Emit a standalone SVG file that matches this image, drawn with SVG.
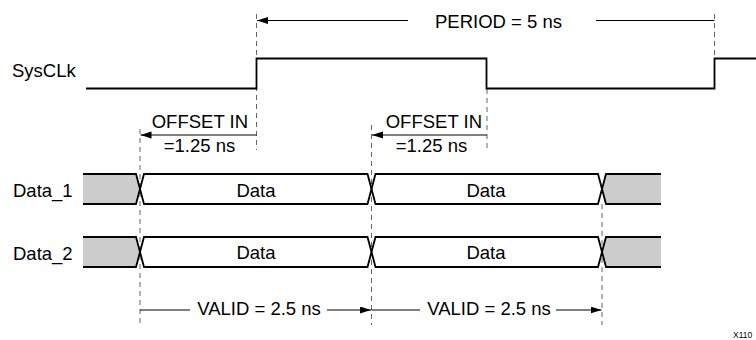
<svg xmlns="http://www.w3.org/2000/svg" width="756" height="340" viewBox="0 0 756 340">
<style>
text{font-family:"Liberation Sans",Arial,Helvetica,sans-serif;font-size:18.5px;fill:#000}
.dash{stroke:#666;stroke-width:1;stroke-dasharray:5,4;fill:none}
.arr{stroke:#000;stroke-width:1;fill:none}
.wave{stroke:#000;stroke-width:1.8;fill:none;stroke-linejoin:miter}
.gray{fill:#cccccc;stroke:none}
.white{fill:#fff;stroke:none}
</style>
<defs>
<marker id="ah" markerUnits="userSpaceOnUse" markerWidth="12" markerHeight="8" refX="11" refY="3.5" orient="auto">
<path d="M0,0 L11,3.5 L0,7 Z" fill="#000"/>
</marker>
</defs>
<rect width="756" height="340" fill="#fff"/>
<g id="connectors">
<path class="dash" d="M256.5,14 V150"/>
<path class="dash" d="M714.5,14 V58"/>
<path class="dash" d="M487,89 V152"/>
<path class="dash" d="M140,129 V325"/>
<path class="dash" d="M371.5,125 V325"/>
<path class="dash" d="M602,204 V325"/>
<path class="arr" d="M408,20.5 H257" marker-end="url(#ah)"/>
<path class="arr" d="M596,20.5 H714.5"/>
<path class="arr" d="M256.5,135 H140.5" marker-end="url(#ah)"/>
<path class="arr" d="M487,135 H372" marker-end="url(#ah)"/>
<path class="arr" d="M140,310 H190"/>
<path class="arr" d="M327,310 H371" marker-end="url(#ah)"/>
<path class="arr" d="M371.5,310 H420"/>
<path class="arr" d="M556,310 H601.5" marker-end="url(#ah)"/>
</g>
<g id="sysclk">
<text x="12" y="77">SysCLk</text>
<path class="wave" d="M86,88.5 H256.5 V58.5 H486.5 V88.5 H714.5 V58.5 H756"/>
</g>
<g id="data1">
<text x="13" y="197">Data_1</text>
<path class="gray" d="M83,174 H136 L140,189 L136,204 H83 Z"/>
<path class="white" d="M144,174 H367.5 L371.5,189 L367.5,204 H144 L140,189 Z"/>
<path class="white" d="M375.5,174 H598 L602,189 L598,204 H375.5 L371.5,189 Z"/>
<path class="gray" d="M606,174 H661 V204 H606 L602,189 Z"/>
<path class="wave" d="M83,174 H136 L144,204 H367.5 L375.5,174 H598 L606,204 H661"/>
<path class="wave" d="M83,204 H136 L144,174 H367.5 L375.5,204 H598 L606,174 H661"/>
<text x="256" y="196.5" text-anchor="middle">Data</text>
<text x="486" y="196.5" text-anchor="middle">Data</text>
</g>
<g id="data2">
<text x="13" y="259.5">Data_2</text>
<path class="gray" d="M83,237 H136 L140,252 L136,267 H83 Z"/>
<path class="white" d="M144,237 H367.5 L371.5,252 L367.5,267 H144 L140,252 Z"/>
<path class="white" d="M375.5,237 H598 L602,252 L598,267 H375.5 L371.5,252 Z"/>
<path class="gray" d="M606,237 H661 V267 H606 L602,252 Z"/>
<path class="wave" d="M83,237 H136 L144,267 H367.5 L375.5,237 H598 L606,267 H661"/>
<path class="wave" d="M83,267 H136 L144,237 H367.5 L375.5,267 H598 L606,237 H661"/>
<text x="256" y="259" text-anchor="middle">Data</text>
<text x="486" y="259" text-anchor="middle">Data</text>
</g>
<g id="labels">
<text x="498.5" y="27.5" text-anchor="middle">PERIOD = 5 ns</text>
<text x="248" y="128" text-anchor="end">OFFSET IN</text>
<text x="199.5" y="151.5" text-anchor="middle">=1.25 ns</text>
<text x="482" y="128" text-anchor="end">OFFSET IN</text>
<text x="431.5" y="152" text-anchor="middle">=1.25 ns</text>
<text x="259" y="315" text-anchor="middle">VALID = 2.5 ns</text>
<text x="489" y="315" text-anchor="middle">VALID = 2.5 ns</text>
<text x="733" y="338" style="font-size:8.5px">X110</text>
</g>
</svg>
